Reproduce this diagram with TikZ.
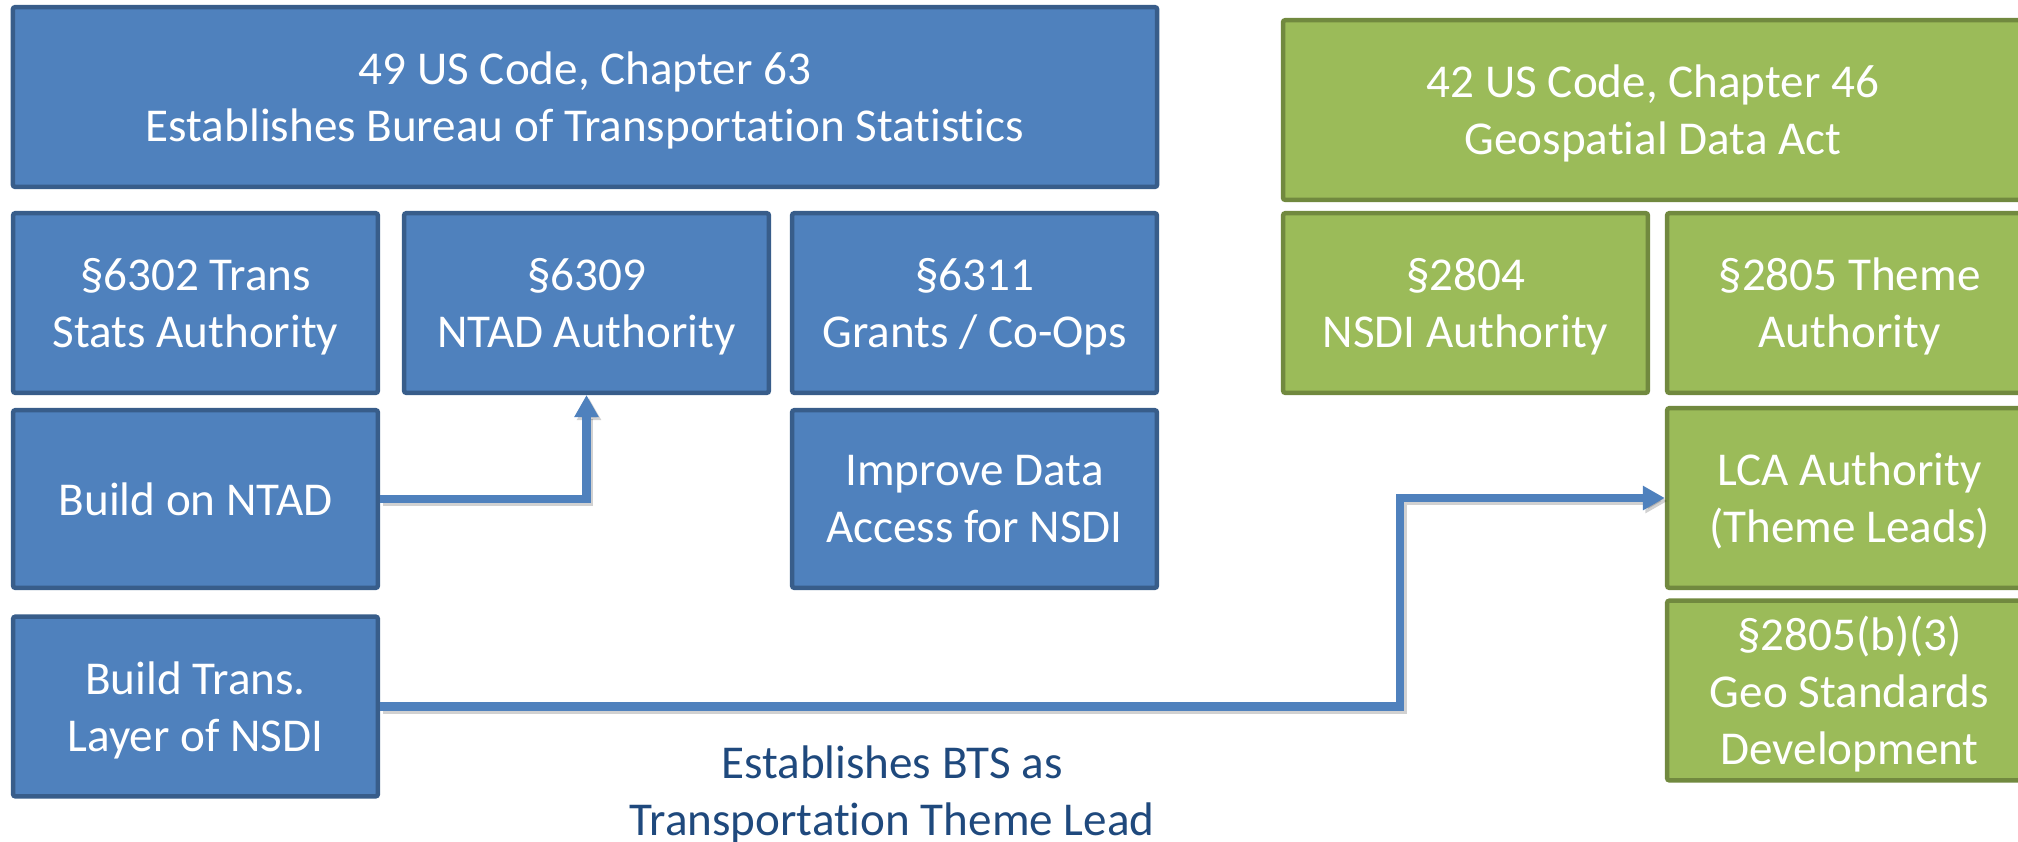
\documentclass[tikz,border=0pt]{standalone}
\usepackage{fontspec}
\setmainfont{Carlito}[Ligatures=NoCommon]
\usetikzlibrary{arrows.meta}

\definecolor{btsblue}{HTML}{4F81BD}
\definecolor{btsedge}{HTML}{385D8A}
\definecolor{gdagreen}{HTML}{9BBB59}
\definecolor{gdaedge}{HTML}{71893F}
\definecolor{leadtext}{HTML}{1F497D}

\begin{document}
\begin{tikzpicture}[x=0.01cm, y=-0.01cm,
        box/.style={rectangle, line width=1.28pt, rounded corners=0.6pt, text=white, align=center,
            font=\fontsize{13.4}{16.2}\selectfont, inner sep=0pt, text depth=-0.5pt,
            minimum width=3.645cm, minimum height=1.795cm},
        dot/.style={box, fill=btsblue, draw=btsedge},
        geo/.style={box, fill=gdagreen, draw=gdaedge},
        link/.style={draw=btsblue, line width=2.3pt, -{Triangle[width=0.23cm,length=0.22cm]}},
        linkshade/.style={link, draw=black, opacity=0.18,
            transform canvas={xshift=0.025cm, yshift=-0.03cm}}]
    \useasboundingbox (0,0) rectangle (2018,841);

    % title 49 and its sections
    \node[dot, minimum width=11.435cm] (bts) at (585,97) {49 US Code, Chapter 63\\Establishes Bureau of Transportation Statistics};
    \node[dot] (s6302) at (195.5,303) {§6302 Trans\\Stats Authority};
    \node[dot] (s6309) at (586.5,303) {§6309\\NTAD Authority};
    \node[dot] (s6311) at (974.5,303) {§6311\\Grants / Co-Ops};
    \node[dot, minimum height=1.775cm] (ntad) at (195.5,499) {Build on NTAD};
    \node[dot, minimum height=1.775cm] (access) at (974.5,499) {Improve Data\\Access for NSDI};
    \node[dot] (layer) at (195.5,706.5) {Build Trans.\\Layer of NSDI};

    % title 42, runs off the right side
    \node[geo, minimum width=7.395cm] (gda) at (1653,110) {42 US Code, Chapter 46\\Geospatial Data Act};
    \node[geo] (s2804) at (1465.5,303) {§2804\\NSDI Authority};
    \node[geo] (s2805) at (1849.5,303) {§2805 Theme\\Authority};
    \node[geo] (lca) at (1849.5,498) {LCA Authority\\(Theme Leads)};
    \node[geo] (geostd) at (1849.5,690.5) {§2805(b)(3)\\Geo Standards\\Development};

    \coordinate (bend) at (1400,706.5);
    \draw[linkshade] (ntad.east) -| (s6309.south);
    \draw[link] (ntad.east) -| (s6309.south);
    \draw[linkshade] (layer.east) -- (bend) |- (lca.west);
    \draw[link] (layer.east) -- (bend) |- (lca.west);

    \node[font=\fontsize{13.4}{16.2}\selectfont, text=leadtext, align=center] (lead) at (892,794) {Establishes BTS as\\Transportation Theme Lead};
\end{tikzpicture}
\end{document}
